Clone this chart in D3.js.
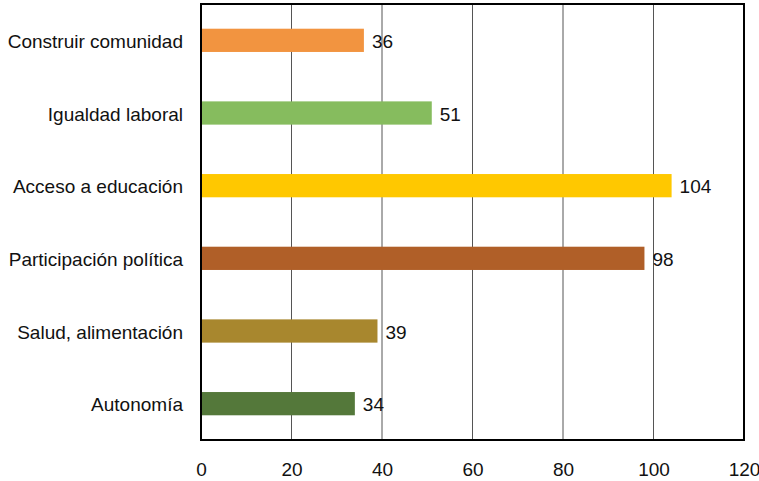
<!DOCTYPE html>
<html><head><meta charset="utf-8">
<script src="https://cdn.jsdelivr.net/npm/d3@7"></script>
<style>body{margin:0;background:#fff}svg{display:block}text{font-family:"Liberation Sans",Arial,Helvetica,sans-serif;fill:#111}</style>
</head><body>
<svg id="c" width="759" height="481"></svg>
<script>
const categories = ["Construir comunidad","Igualdad laboral","Acceso a educación","Participación política","Salud, alimentación","Autonomía"];
const values = [36,51,104,98,39,34];
const colors = ["#F29440","#86BC5E","#FFC800","#B05F28","#A8872E","#54783A"];
const ticks = [0,20,40,60,80,100,120];

const svg = d3.select("#c");
const m = {l:201,r:744,t:4,b:440};
const fs = 19;
const x = d3.scaleLinear().domain([0,120]).range([m.l,m.r]);
const y = d3.scaleBand().domain(categories).range([m.t,m.b]).paddingInner(0.68).paddingOuter(0.34);

// gridlines
svg.append("g").selectAll("line").data(ticks.slice(1,-1)).join("line")
  .attr("x1",d=>x(d)).attr("x2",d=>x(d)).attr("y1",m.t).attr("y2",m.b)
  .attr("stroke","#555").attr("stroke-width",1);

// bars
svg.append("g").selectAll("rect").data(values).join("rect")
  .attr("x",x(0)).attr("y",(d,i)=>y(categories[i]))
  .attr("width",d=>x(d)-x(0)).attr("height",y.bandwidth())
  .attr("fill",(d,i)=>colors[i]);

// value labels
svg.append("g").selectAll("text").data(values).join("text")
  .attr("x",d=>x(d)+8).attr("y",(d,i)=>y(categories[i])+y.bandwidth()/2)
  .attr("dy","0.4em").attr("font-size",fs).text(d=>d);

// category labels
svg.append("g").selectAll("text").data(categories).join("text")
  .attr("x",183).attr("y",d=>y(d)+y.bandwidth()/2).attr("dy","0.4em")
  .attr("text-anchor","end").attr("font-size",fs).text(d=>d);

// frame
svg.append("rect").attr("x",m.l).attr("y",m.t).attr("width",m.r-m.l).attr("height",m.b-m.t)
  .attr("fill","none").attr("stroke","#000").attr("stroke-width",2);

// x axis labels
const ax = svg.append("g").attr("transform",`translate(0,${m.b})`)
  .call(d3.axisBottom(x).tickValues(ticks).tickSize(0).tickPadding(23));
ax.select(".domain").remove();
ax.selectAll("text").attr("font-size",fs).attr("font-family","Liberation Sans,Arial,sans-serif").attr("fill","#111");
</script>
</body></html>
